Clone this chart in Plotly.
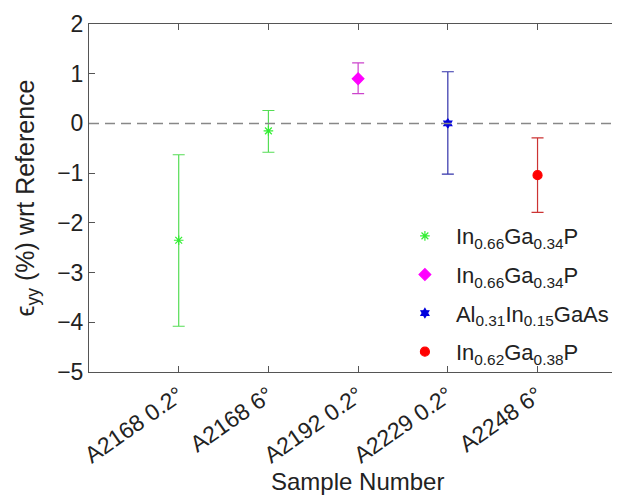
import plotly.graph_objects as go

muestras = ['A2168 0.2°', 'A2168 6°', 'A2192 0.2°', 'A2229 0.2°', 'A2248 6°']
posicion = [1, 2, 3, 4, 5]
deformacion = [-2.35, -0.15, 0.90, 0.00, -1.04]
error_sup = [-0.63, 0.26, 1.22, 1.04, -0.29]
error_inf = [-4.08, -0.58, 0.60, -1.02, -1.79]

series = [
    # (nombre, indices, color marcador, color barra, simbolo, tamaño)
    ('In<sub>0.66</sub>Ga<sub>0.34</sub>P', [0, 1], '#33ee33', '#55dd55', 'asterisk-open', 8),
    ('In<sub>0.66</sub>Ga<sub>0.34</sub>P', [2], '#ff00ff', '#cc44cc', 'diamond', 9),
    ('Al<sub>0.31</sub>In<sub>0.15</sub>GaAs', [3], '#0000dd', '#3333aa', 'hexagram', 7),
    ('In<sub>0.62</sub>Ga<sub>0.38</sub>P', [4], '#ff0000', '#cc3333', 'circle', 9),
]

fig = go.Figure()

fig.add_hline(y=0, line=dict(color='#888888', width=1.5, dash='10px,6px'))

for k, (nombre, idx, cor, cor_barra, simbolo, tam) in enumerate(series):
    fig.add_trace(go.Scatter(
        x=[posicion[i] for i in idx],
        y=[deformacion[i] for i in idx],
        mode='markers',
        name=nombre,
        legendgroup=f'g{k}',
        marker=dict(color=cor, symbol=simbolo, size=tam,
                    line=dict(color=cor, width=1.2)),
        error_y=dict(
            type='data',
            symmetric=False,
            array=[error_sup[i] - deformacion[i] for i in idx],
            arrayminus=[deformacion[i] - error_inf[i] for i in idx],
            color=cor_barra,
            thickness=1.2,
            width=6
        )
    ))

# titulo del eje x como anotacion (standoff no actua sin automargin)
fig.add_annotation(
    text='Sample Number',
    xref='paper', yref='paper',
    x=0.514, y=0,
    xanchor='center', yanchor='middle',
    yshift=-109,
    showarrow=False,
    font=dict(size=24)
)

# la pagina deja 8 px de margen alrededor de la figura
fig.update_layout(
    width=606,
    height=487,
    margin=dict(l=81, r=0, t=16, b=123),
    plot_bgcolor='white',
    paper_bgcolor='white',
    font=dict(family='Liberation Sans, Arial', size=21, color='#222222'),
    legend=dict(
        x=0.583, y=0.451, xanchor='left', yanchor='top',
        bgcolor='rgba(0,0,0,0)',
        font=dict(size=22),
        itemwidth=52,
        traceorder='grouped',
        tracegroupgap=7
    ),
    showlegend=True
)

fig.update_xaxes(
    range=[0, 5.83],
    tickvals=posicion,
    ticktext=muestras,
    tickangle=-35,
    ticks='inside',
    ticklen=6,
    tickcolor='#555555',
    showline=True,
    linecolor='#555555',
    linewidth=1,
    mirror='ticks',
    showgrid=False,
    zeroline=False,
    automargin=False,
    tickfont=dict(size=23)
)

fig.update_yaxes(
    range=[-5, 2],
    dtick=1,
    ticks='inside',
    ticklen=6,
    tickcolor='#555555',
    showline=True,
    linecolor='#555555',
    linewidth=1,
    mirror=False,
    showgrid=False,
    zeroline=False,
    automargin=False,
    tickfont=dict(size=23),
    title=dict(text='\u03f5<sub>yy</sub> (%) wrt Reference', font=dict(size=25))
)

fig.write_html('out.html')
